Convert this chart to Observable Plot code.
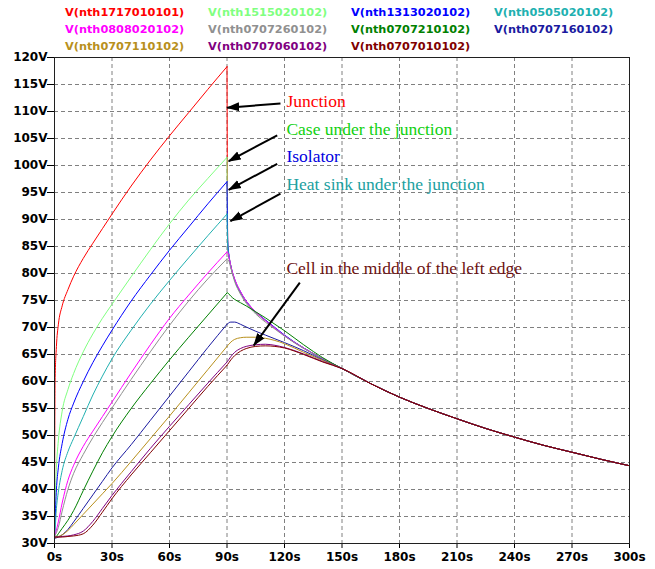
<!DOCTYPE html>
<html><head><meta charset="utf-8">
<script src="https://cdn.jsdelivr.net/npm/d3@7"></script>
<script src="https://cdn.jsdelivr.net/npm/@observablehq/plot@0.6"></script>
<style>
body{margin:0;background:#fff;}
#wrap{position:relative;width:655px;height:569px;}
#legend{position:absolute;left:0;top:0;width:655px;height:56px;font-family:"DejaVu Sans",sans-serif;font-weight:bold;font-size:11.3px;}
#legend span{position:absolute;white-space:nowrap;line-height:14px;}
</style></head><body><div id="wrap"><div id="legend"></div></div>
<script>
// time axis samples (s); index 16 (90 s) is where the power is switched off
const time = [0, 0.3, 1, 2, 4, 7, 10, 15, 20, 25, 30, 40, 50, 60, 70, 80, 90, 90.4, 91, 92, 94, 97, 100, 105, 110, 115, 120, 130, 140, 150, 165, 180, 195, 210, 225, 240, 255, 270, 285, 300];

const traceNames = ["V(nth1717010101)", "V(nth1515020102)", "V(nth1313020102)", "V(nth0505020102)",
  "V(nth0808020102)", "V(nth0707260102)", "V(nth0707210102)", "V(nth0707160102)",
  "V(nth0707110102)", "V(nth0707060102)", "V(nth0707010102)"];
const traceColors = ["#ff0000", "#80ff80", "#0000ff", "#20b0b0", "#ff00ff", "#909090", "#008000", "#1a1aa0", "#b8901c", "#800080", "#800000"];

const vN1717010101 = [31, 60, 66.5, 70.5, 74, 77, 79.5, 82.8, 85.6, 88.3, 91, 96.2, 101, 105.5, 109.8, 114.1, 118.3, 85, 83.2, 81.3, 78.8, 76.5, 74.8, 72.8, 71.3, 69.9, 68.5, 66.2, 64.2, 62.4, 59.6, 57.1, 55.0, 53.1, 51.3, 49.7, 48.2, 46.9, 45.6, 44.4];
const vN1515020102 = [31, 37, 44, 49, 54.5, 58.5, 61.5, 65.5, 68.8, 71.7, 74.3, 79.4, 84.4, 89.2, 93.6, 97.6, 101.5, 85, 83.3, 81.4, 78.9, 76.6, 74.9, 72.9, 71.4, 69.9, 68.5, 66.2, 64.2, 62.4, 59.6, 57.1, 55.0, 53.1, 51.3, 49.7, 48.2, 46.9, 45.6, 44.4];
const vN1313020102 = [31, 34, 40, 44, 48.5, 53, 56, 60, 63.5, 66.6, 69.5, 74.9, 79.7, 84.3, 88.6, 92.9, 97, 86, 83.4, 81.4, 78.9, 76.6, 74.9, 72.9, 71.4, 70, 68.6, 66.2, 64.2, 62.4, 59.6, 57.1, 55.0, 53.1, 51.3, 49.7, 48.2, 46.9, 45.6, 44.4];
const vN0505020102 = [31, 32.5, 36.5, 39.5, 43.5, 47, 49.5, 53.5, 57.5, 61, 64.2, 69.5, 74.3, 78.7, 82.9, 87, 91, 85, 83.3, 81.3, 78.8, 76.6, 74.8, 72.8, 71.3, 69.9, 68.5, 66.2, 64.2, 62.4, 59.6, 57.1, 55.0, 53.1, 51.3, 49.7, 48.2, 46.9, 45.6, 44.4];
const vN0808020102 = [31.3, 31.6, 32.5, 34, 37.5, 41.7, 44.5, 48, 50.8, 53.5, 56.2, 61.6, 66.8, 71.7, 76, 80.1, 84, 83.9, 83.2, 81.4, 79, 76.7, 74.9, 72.9, 71.3, 69.9, 68.5, 66.2, 64.2, 62.4, 59.6, 57.1, 55.0, 53.1, 51.3, 49.7, 48.2, 46.9, 45.6, 44.4];
const vN0707260102 = [31.3, 31.5, 32, 33, 36, 40, 43, 46.5, 49.6, 52.4, 55.1, 60.4, 65.5, 70.4, 74.9, 79, 82.7, 82.6, 82.3, 81, 78.5, 76.2, 74.5, 72.5, 71, 69.7, 68.4, 66.1, 64.2, 62.4, 59.6, 57.1, 55.0, 53.1, 51.3, 49.7, 48.2, 46.9, 45.6, 44.4];
const vN0707210102 = [31, 31, 31.3, 31.8, 32.8, 34.3, 36.1, 39.8, 43.4, 46.8, 49.8, 55, 59.6, 64, 68.2, 72.3, 76.4, 76.4, 76.2, 75.8, 75.2, 74.6, 74, 72.9, 71.8, 70.6, 69.4, 66.8, 64.4, 62.4, 59.6, 57.1, 55.0, 53.1, 51.3, 49.7, 48.2, 46.9, 45.6, 44.4];
const vN0707160102 = [31, 31, 31.05, 31.2, 31.6, 32.6, 34, 36.5, 39, 41.5, 44, 48.3, 52.8, 57.3, 61.8, 66.3, 70.6, 70.7, 70.9, 71, 71, 70.6, 70.1, 69.3, 68.6, 67.9, 67.2, 65.7, 64, 62.4, 59.6, 57.1, 55.0, 53.1, 51.3, 49.7, 48.2, 46.9, 45.6, 44.4];
const vN0707110102 = [31.2, 31.2, 31.2, 31.3, 31.6, 32.4, 33.5, 35.4, 37.3, 39.2, 41.1, 45.2, 49.4, 53.6, 57.9, 62.2, 66.5, 66.7, 66.9, 67.3, 67.8, 68.1, 68.2, 68.2, 68, 67.6, 67, 65.4, 63.9, 62.4, 59.6, 57.1, 55.0, 53.1, 51.3, 49.7, 48.2, 46.9, 45.6, 44.4];
const vN0707060102 = [31.2, 31.2, 31.2, 31.2, 31.3, 31.4, 31.6, 32.3, 34.1, 36.5, 38.9, 43.3, 47.6, 51.7, 55.7, 59.7, 63.6, 63.8, 64.1, 64.6, 65.4, 66.1, 66.5, 66.8, 66.9, 66.7, 66.3, 65.1, 63.7, 62.4, 59.6, 57.1, 55.0, 53.1, 51.3, 49.7, 48.2, 46.9, 45.6, 44.4];
const vN0707010102 = [31.2, 31.2, 31.2, 31.2, 31.2, 31.3, 31.4, 31.8, 33.4, 35.8, 38.3, 42.7, 46.8, 50.9, 55, 59.1, 63, 63.2, 63.5, 64, 64.8, 65.6, 66.1, 66.5, 66.6, 66.5, 66.2, 65, 63.6, 62.4, 59.6, 57.1, 55.0, 53.1, 51.3, 49.7, 48.2, 46.9, 45.6, 44.4];

const traceValues = [vN1717010101, vN1515020102, vN1313020102, vN0505020102, vN0808020102, vN0707260102,
  vN0707210102, vN0707160102, vN0707110102, vN0707060102, vN0707010102];
const switchOffIndex = 16;

const xTicks = [0, 30, 60, 90, 120, 150, 180, 210, 240, 270, 300];
const yTicks = [30, 35, 40, 45, 50, 55, 60, 65, 70, 75, 80, 85, 90, 95, 100, 105, 110, 115, 120];

// annotations (data units)
const noteLabels = ["Junction", "Case under the junction", "Isolator", "Heat sink under the junction", "Cell in the middle of the left edge"];
const noteColors = ["#ff0000", "#10d010", "#0000e0", "#20a0a0", "#6b0f0f"];
const noteT = [121, 121, 121, 121, 121];
const noteV = [111.8, 106.7, 101.6, 96.5, 81.0];
const arrowFromT = [117.9, 116.2, 116.2, 117.9, 128];
const arrowFromV = [111.5, 105.6, 100.3, 94.8, 78.3];
const arrowToT = [90.1, 90.9, 90.9, 91.8, 104];
const arrowToV = [110.7, 100.8, 95.5, 89.7, 66.7];

// heating and cooling phases are separate segments so the peak stays sharp
const rows = traceNames.flatMap((name, i) => time.flatMap((t, j) => {
  const out = [];
  if (j <= switchOffIndex) out.push({t, v: traceValues[i][j], name, seg: name + "|heat"});
  if (j >= switchOffIndex) out.push({t, v: traceValues[i][j], name, seg: name + "|cool"});
  return out;
}));
const arrows = arrowFromT.map((t, i) => ({x1: t, y1: arrowFromV[i], x2: arrowToT[i], y2: arrowToV[i]}));

const chart = Plot.plot({
  width: 655, height: 569,
  marginLeft: 54, marginRight: 26, marginTop: 57, marginBottom: 26,
  style: {fontFamily: "'DejaVu Sans', sans-serif", fontSize: "12px", fontWeight: "bold", color: "#000", background: "#fff"},
  x: {domain: [0, 300]},
  y: {domain: [30, 120]},
  color: {domain: traceNames, range: traceColors},
  marks: [
    Plot.gridX({ticks: xTicks, stroke: "#808080", strokeOpacity: 1, strokeDasharray: "4,3"}),
    Plot.gridY({ticks: yTicks, stroke: "#808080", strokeOpacity: 1, strokeDasharray: "4,3"}),
    Plot.axisX({ticks: xTicks, tickFormat: d => d + "s", tickSize: 5, tickPadding: 4, label: null, fontSize: 12, fontWeight: "bold"}),
    Plot.axisY({ticks: yTicks, tickFormat: d => d + "V", tickSize: 7, tickPadding: 0, label: null, fontSize: 12, fontWeight: "bold"}),
    Plot.line(rows, {x: "t", y: "v", z: "seg", stroke: "name", strokeWidth: 1, curve: "monotone-x"}),
    Plot.frame({stroke: "#202020"}),
    Plot.link(arrows, {x1: "x1", y1: "y1", x2: "x2", y2: "y2", stroke: "#000", strokeWidth: 2, markerEnd: "arrow"}),
    ...noteLabels.map((txt, i) => Plot.text([txt], {
      x: () => noteT[i], y: () => noteV[i], text: d => d, fill: noteColors[i],
      textAnchor: "start", fontFamily: "'Liberation Serif', 'Times New Roman', serif", fontSize: 17.5, fontWeight: "normal"
    }))
  ]
});

// filled triangular arrow heads
d3.select(chart).selectAll("marker").each(function () {
  const m = d3.select(this);
  m.attr("viewBox", "-12 -5 14 10").attr("markerWidth", 7).attr("markerHeight", 5)
   .attr("refX", 0).attr("refY", 0).attr("markerUnits", "strokeWidth")
   .attr("fill", "#000").attr("stroke", "none");
  m.selectAll("*").remove();
  m.append("path").attr("d", "M-12,-4.5L1,0L-12,4.5Z");
});

const wrap = document.getElementById("wrap");
wrap.insertBefore(chart, wrap.firstChild);
chart.style.position = "absolute";
chart.style.left = "0";
chart.style.top = "0";

const legendX = [65, 208, 351, 494];
const legendY = [6.3, 23, 39.5];
const legend = document.getElementById("legend");
traceNames.forEach((n, i) => {
  const s = document.createElement("span");
  s.textContent = n;
  s.style.left = legendX[i % 4] + "px";
  s.style.top = legendY[Math.floor(i / 4)] + "px";
  s.style.color = traceColors[i];
  legend.appendChild(s);
});
</script></body></html>
